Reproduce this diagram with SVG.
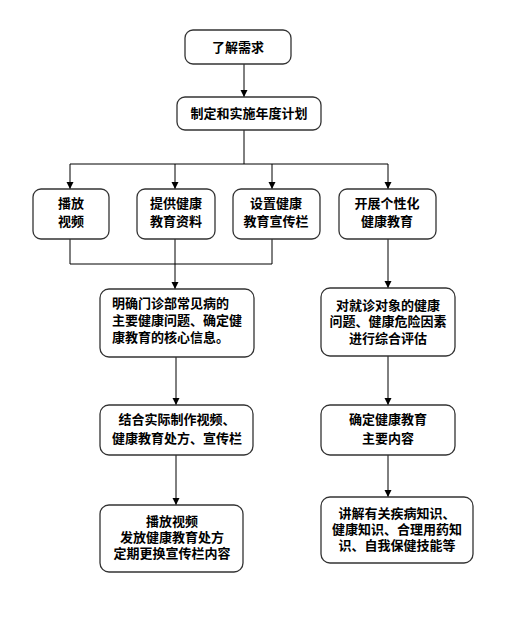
<svg xmlns="http://www.w3.org/2000/svg" width="530" height="630" viewBox="0 0 530 630">
<style>
.box{fill:#fff;stroke:#333;stroke-width:1.3}
.t{font-family:"Noto Sans CJK SC","Liberation Sans",sans-serif;font-size:13px;font-weight:bold;fill:#000;text-anchor:middle}
.tl{text-anchor:start}
.ln{fill:none;stroke:#000;stroke-width:1}
</style>
<defs>
<marker id="ah" markerWidth="8" markerHeight="8" refX="7" refY="4" orient="auto" markerUnits="userSpaceOnUse">
<path d="M0,0.5 L7,4 L0,7.5 Z" fill="#000"/>
</marker>
</defs>
<rect width="530" height="630" fill="#fff"/>
<g id="connectors">
<path class="ln" d="M244,64 V97" marker-end="url(#ah)"/>
<path class="ln" d="M244,130 V164"/>
<path class="ln" d="M70,164 H388"/>
<path class="ln" d="M70,164 V189" marker-end="url(#ah)"/>
<path class="ln" d="M175,164 V189" marker-end="url(#ah)"/>
<path class="ln" d="M272,164 V189" marker-end="url(#ah)"/>
<path class="ln" d="M388,164 V189" marker-end="url(#ah)"/>
<path class="ln" d="M70,239 V264 H272 V239"/>
<path class="ln" d="M175,239 V289" marker-end="url(#ah)"/>
<path class="ln" d="M176,357 V405" marker-end="url(#ah)"/>
<path class="ln" d="M176,455 V505" marker-end="url(#ah)"/>
<path class="ln" d="M388,239 V288" marker-end="url(#ah)"/>
<path class="ln" d="M388,356 V405" marker-end="url(#ah)"/>
<path class="ln" d="M388,455 V497" marker-end="url(#ah)"/>
</g>
<g id="n1"><rect class="box" x="185" y="30" width="106" height="34" rx="8"/><text class="t" x="238" y="52">了解需求</text></g>
<g id="n2"><rect class="box" x="177" y="97" width="144" height="33" rx="8"/><text class="t" x="249" y="118">制定和实施年度计划</text></g>
<g id="n3"><rect class="box" x="33" y="189" width="76" height="50" rx="8"/><text class="t" x="71" y="208">播放</text><text class="t" x="71" y="226">视频</text></g>
<g id="n4"><rect class="box" x="137" y="189" width="78" height="50" rx="8"/><text class="t" x="176" y="208">提供健康</text><text class="t" x="176" y="226">教育资料</text></g>
<g id="n5"><rect class="box" x="233" y="189" width="87" height="50" rx="8"/><text class="t" x="276" y="208">设置健康</text><text class="t" x="276" y="226">教育宣传栏</text></g>
<g id="n6"><rect class="box" x="339" y="189" width="97" height="50" rx="8"/><text class="t" x="387" y="208">开展个性化</text><text class="t" x="387" y="226">健康教育</text></g>
<g id="n7"><rect class="box" x="100" y="289" width="154" height="68" rx="9"/><text class="t tl" x="112" y="308">明确门诊部常见病的</text><text class="t tl" x="112" y="325">主要健康问题、确定健</text><text class="t tl" x="112" y="342">康教育的核心信息。</text></g>
<g id="n8"><rect class="box" x="321" y="288" width="134" height="68" rx="9"/><text class="t" x="388" y="310">对就诊对象的健康</text><text class="t" x="388" y="326">问题、健康危险因素</text><text class="t" x="388" y="343">进行综合评估</text></g>
<g id="n9"><rect class="box" x="100" y="405" width="153" height="50" rx="9"/><text class="t" x="177" y="424">结合实际制作视频、</text><text class="t" x="177" y="443">健康教育处方、宣传栏</text></g>
<g id="n10"><rect class="box" x="321" y="405" width="134" height="50" rx="9"/><text class="t" x="388" y="424">确定健康教育</text><text class="t" x="388" y="443">主要内容</text></g>
<g id="n11"><rect class="box" x="100" y="505" width="143" height="67" rx="9"/><text class="t" x="172" y="526">播放视频</text><text class="t" x="172" y="542">发放健康教育处方</text><text class="t" x="172" y="558">定期更换宣传栏内容</text></g>
<g id="n12"><rect class="box" x="321" y="497" width="152" height="66" rx="9"/><text class="t" x="397" y="518">讲解有关疾病知识、</text><text class="t" x="397" y="534">健康知识、合理用药知</text><text class="t" x="397" y="550">识、自我保健技能等</text></g>
</svg>
